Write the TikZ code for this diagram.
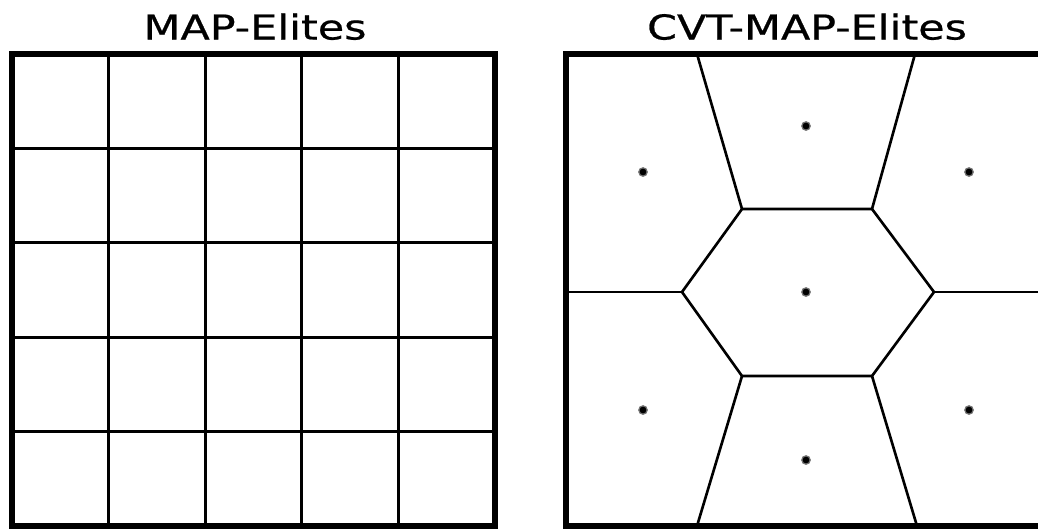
\documentclass[tikz,border=0pt]{standalone}
\usepackage{fontspec}
\setmainfont{DejaVu Sans}
\newfontfamily\headfont[FakeBold=0.6]{DejaVu Sans}
\usepackage{graphicx}
\usetikzlibrary{positioning}

\begin{document}
\begin{tikzpicture}[
        x=0.02cm, y=-0.02cm,
        frame/.style={draw=black, line width=3.8pt},
        cellline/.style={draw=black, line width=1.7pt},
        voro/.style={draw=black, line width=1.5pt, line join=miter},
        seed/.style={fill=black, draw=black!55, line width=0.7pt},
        title/.style={font=\headfont\fontsize{19.5}{21}\selectfont, inner sep=0pt, anchor=base}
    ]
    \useasboundingbox (0,0) rectangle (1038,529);
    \clip (0,0) rectangle (1038,529);

    % ================= MAP-Elites: regular grid =========================
    \node[title] (gridtitle) at (255,39.5) {\scalebox{1.25}[1]{MAP-Elites}};
    \foreach \i in {1,...,4} {
        \draw[cellline] ({12+96.6*\i},54) -- ({12+96.6*\i},526);
        \draw[cellline] (12,{54+94.4*\i}) -- (495,{54+94.4*\i});
    }
    \draw[frame] (12,54) rectangle (495,526);

    % ================= CVT-MAP-Elites: Voronoi cells ====================
    \node[title] (cvttitle) at (807,39.5) {\scalebox{1.25}[1]{CVT-MAP-Elites}};

    % central hexagon
    \draw[voro] (742,209) -- (872,209) -- (934,292) -- (872,376)
                -- (742,376) -- (682,292) -- cycle;
    % spokes to the frame
    \draw[voro] (742,209) -- (697,54);
    \draw[voro] (872,209) -- (915,54);
    \draw[voro] (682,292) -- (566,292);
    \draw[voro] (934,292) -- (1050,292);
    \draw[voro] (742,376) -- (697,526);
    \draw[voro] (872,376) -- (917,526);

    % centroids
    \foreach \p in {(643,172),(806,126),(969,172),(806,292),
                    (643,410),(806,460),(969,410)}
        \filldraw[seed] \p circle (4.2);

    \draw[frame] (566,54) rectangle (1049,526);
\end{tikzpicture}
\end{document}
